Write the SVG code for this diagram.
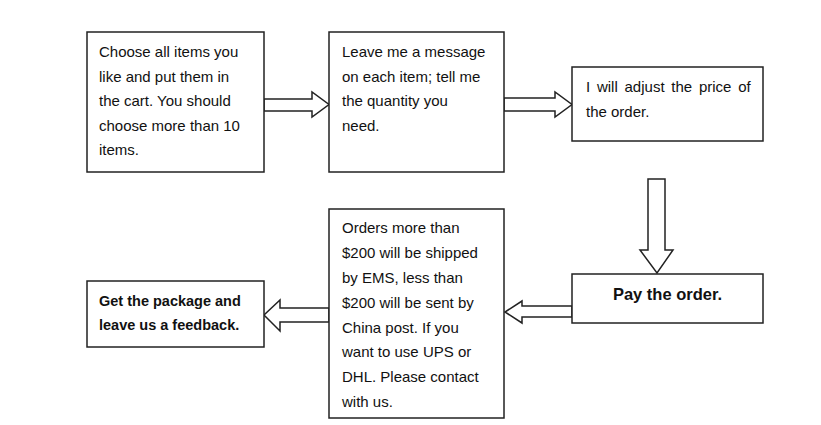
<svg xmlns="http://www.w3.org/2000/svg" width="821" height="425" viewBox="0 0 821 425">
<style>
.box{fill:#fff;stroke:#222;stroke-width:1.5}
.arr{fill:#fff;stroke:#222;stroke-width:1.5;stroke-linejoin:miter}
.t{font-family:"Liberation Sans",Arial,sans-serif;font-size:15px;fill:#111}
.b{font-family:"Liberation Sans",Arial,sans-serif;font-size:14.5px;font-weight:bold;fill:#111}
.bb{font-family:"Liberation Sans",Arial,sans-serif;font-size:16.5px;font-weight:bold;fill:#111}
</style>
<rect width="821" height="425" fill="#fff"/>
<g id="connectors">
<polygon class="arr" points="264,99 312,99 312,92 329,104.5 312,117 312,111 264,111"/>
<polygon class="arr" points="504,98 555,98 555,92 572,104.5 555,117 555,111 504,111"/>
<polygon class="arr" points="648,179 665,179 665,250 673,250 657,273 640,250 648,250"/>
<polygon class="arr" points="572,306 522,306 522,301 505,312 522,323 522,317 572,317"/>
<polygon class="arr" points="329,308 280,308 280,300 264,315 280,331 280,322 329,322"/>
</g>
<g id="n1">
<rect class="box" x="87" y="32" width="177" height="140"/>
<text class="t" x="99" y="57">Choose all items you</text>
<text class="t" x="99" y="81.6">like and put them in</text>
<text class="t" x="99" y="106.2">the cart. You should</text>
<text class="t" x="99" y="130.8">choose more than 10</text>
<text class="t" x="99" y="155.4">items.</text>
</g>
<g id="n2">
<rect class="box" x="329" y="32" width="175" height="140"/>
<text class="t" x="342" y="57">Leave me a message</text>
<text class="t" x="342" y="81.6">on each item; tell me</text>
<text class="t" x="342" y="106.2">the quantity you</text>
<text class="t" x="342" y="130.8">need.</text>
</g>
<g id="n3">
<rect class="box" x="572" y="67" width="191" height="74"/>
<text class="t" x="586" y="92" word-spacing="2.6">I will adjust the price of</text>
<text class="t" x="586" y="117">the order.</text>
</g>
<g id="n4">
<rect class="box" x="572" y="274" width="191" height="49"/>
<text class="bb" x="667.5" y="300" text-anchor="middle">Pay the order.</text>
</g>
<g id="n5">
<rect class="box" x="329" y="209" width="175" height="209"/>
<text class="t" x="342" y="233">Orders more than</text>
<text class="t" x="342" y="258">$200 will be shipped</text>
<text class="t" x="342" y="283">by EMS, less than</text>
<text class="t" x="342" y="307.5">$200 will be sent by</text>
<text class="t" x="342" y="332.5">China post. If you</text>
<text class="t" x="342" y="357">want to use UPS or</text>
<text class="t" x="342" y="382">DHL. Please contact</text>
<text class="t" x="342" y="407">with us.</text>
</g>
<g id="n6">
<rect class="box" x="87" y="281" width="177" height="66"/>
<text class="b" x="99" y="306">Get the package and</text>
<text class="b" x="99" y="330">leave us a feedback.</text>
</g>
</svg>
